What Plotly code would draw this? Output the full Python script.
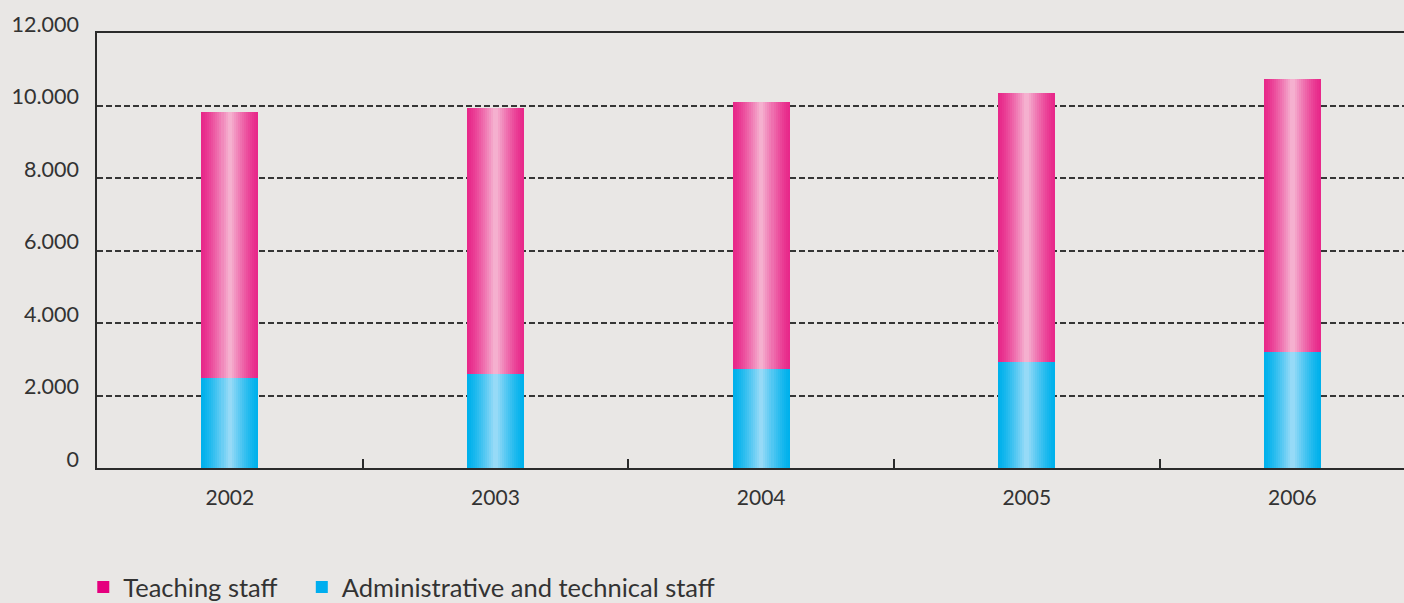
import plotly.graph_objects as go

years = ["2002", "2003", "2004", "2005", "2006"]
admin_staff = [2475, 2585, 2720, 2915, 3190]
teaching_staff = [7345, 7345, 7370, 7425, 7535]
y_ticks = [0, 2000, 4000, 6000, 8000, 10000, 12000]
y_tick_labels = ["0", "2.000", "4.000", "6.000", "8.000", "10.000", "12.000"]

BG = "#e9e7e5"
TXT = "#333333"

def lerp(c1, c2, t):
    a = [int(c1[i:i + 2], 16) for i in (1, 3, 5)]
    b = [int(c2[i:i + 2], 16) for i in (1, 3, 5)]
    return "#" + "".join(f"{round(a[k] + (b[k] - a[k]) * t):02x}" for k in range(3))

fig = go.Figure()
BAR_W = 0.215
N = 14
series = [
    ("Administrative and technical staff", admin_staff, [0] * len(years), "#00b1ec", "#96daf7", "#00aeef", "legend2"),
    ("Teaching staff", teaching_staff, admin_staff, "#e8288a", "#f5b0cf", "#e5007e", "legend"),
]
for name, vals, base, edge, center, legc, leg in series:
    for i in range(N):
        t = i / (N - 1)
        w = BAR_W * (1 - 0.92 * t)
        col = lerp(edge, center, t ** 1.3)
        fig.add_trace(go.Bar(
            x=years, y=vals, base=base, width=w, name=name,
            marker=dict(color=col, line=dict(width=0)),
            showlegend=False, hoverinfo="skip" if i else None,
        ))
    # legend proxy
    fig.add_trace(go.Bar(
        x=[years[0]], y=[0], base=[0], width=0, name=name,
        marker=dict(color=legc, line=dict(width=0)),
        showlegend=True, legend=leg,
    ))

leg_common = dict(
    orientation="h", xanchor="left",
    yref="container", y=0.026, yanchor="middle",
    font=dict(size=25.5, color=TXT), bgcolor="rgba(0,0,0,0)",
    itemsizing="constant",
)
fig.update_layout(
    width=1404, height=603,
    barmode="overlay",
    paper_bgcolor=BG, plot_bgcolor=BG,
    margin=dict(l=97, r=0, t=33, b=135, autoexpand=False),
    font=dict(family="Lato, Open Sans, sans-serif", color=TXT, size=21),
    showlegend=True,
    legend=dict(x=-0.0105, **leg_common),
    legend2=dict(x=0.1567, **leg_common),
    bargap=0,
)
fig.update_xaxes(
    type="category", range=[-0.5, 4.42], automargin=False,
    showline=True, linecolor="#2b2b2b", linewidth=2, mirror=True,
    ticks="inside", ticklen=9, tickwidth=1.5, tickcolor="#2b2b2b",
    tickson="boundaries", showgrid=False,
    ticklabelstandoff=10, tickfont=dict(size=21, color=TXT),
)
fig.update_yaxes(
    range=[0, 12000], tickvals=y_ticks, ticktext=y_tick_labels, automargin=False,
    showline=True, linecolor="#2b2b2b", linewidth=1.5,
    showgrid=True, gridcolor="#363636", gridwidth=1.6, griddash="6px,3px",
    zeroline=False, ticks="",
    ticklabelstandoff=12, ticklabelshift=-9, tickfont=dict(size=21.5, color=TXT),
)
fig.write_html(
    "out.html",
    config={"displayModeBar": False},
    post_script="document.body.style.margin='0';document.body.style.overflow='hidden';",
)
